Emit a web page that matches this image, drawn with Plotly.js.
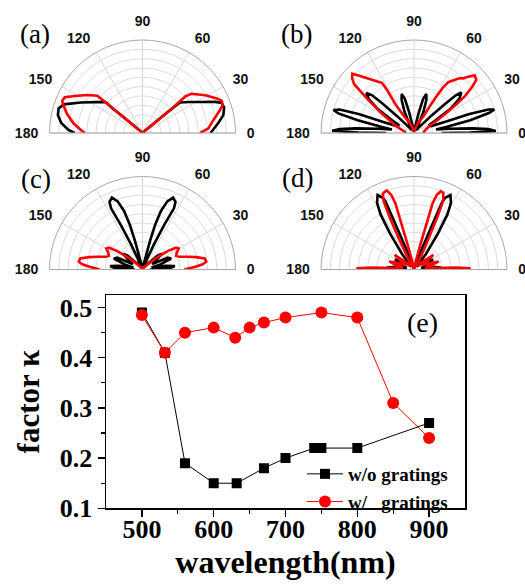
<!DOCTYPE html>
<html>
<head>
<meta charset="utf-8">
<script src="https://cdn.plot.ly/plotly-3.0.1.min.js"></script>
<style>html,body{margin:0;padding:0;background:#fff}#chart{width:525px;height:588px}</style>
</head>
<body>
<div id="chart"></div>
<script>
// ---------- polar panels: angle (deg) and normalized radius ----------
const aBlackTheta = [0,2.6,7.4,12.5,17.3,20.8,23.2,27.6,33.8,39,39.5,40,41,43,46,90,134,137,139,140,140.5,140,153.7,160,163.7,168,173,177.5,180];
const aBlackR     = [0.73,0.76,0.82,0.89,0.92,0.91,0.85,0.72,0.60,0.52,0.42,0.28,0.12,0.03,0.01,0,0.01,0.03,0.12,0.28,0.42,0.52,0.74,0.90,0.94,0.93,0.88,0.80,0.73];
const aRedTheta   = [0,4,10,16,19,22,25,31,36,39,39.5,40.5,40,39.5,40,42,46,90,134,138,140,140.5,140,140.4,145.4,151.3,155.2,158.3,160.7,165.6,172,177.5,180];
const aRedR       = [0.62,0.71,0.77,0.86,0.91,0.92,0.88,0.79,0.71,0.67,0.64,0.61,0.42,0.28,0.13,0.03,0.01,0,0.01,0.03,0.13,0.28,0.42,0.63,0.72,0.83,0.92,0.93,0.90,0.84,0.75,0.66,0.62];

const bBlackTheta = [0,0.5,1.4,3,4.5,7,9,10.5,12.8,15,16.3,17.5,19,19.8,22,27,30,33.5,37,40.5,42,43,45,48,55,62,66,69.5,72.5,75,77,80,85,90,95,100,103,105,107.5,110.5,114,118,125,132,135,137,138,140,143,146.5,150,153,158,160.2,161,162.5,164,165.5,167.2,169.5,171,173,175.5,177,178.4,179.5,180];
const bBlackR     = [0.30,0.60,0.88,0.80,0.63,0.38,0.24,0.35,0.62,0.84,0.90,0.84,0.63,0.36,0.20,0.18,0.26,0.47,0.61,0.67,0.61,0.46,0.26,0.10,0.04,0.10,0.25,0.38,0.44,0.38,0.22,0.06,0.02,0.01,0.02,0.06,0.22,0.38,0.44,0.38,0.25,0.10,0.04,0.10,0.26,0.46,0.61,0.67,0.61,0.47,0.26,0.18,0.20,0.36,0.63,0.84,0.90,0.84,0.62,0.35,0.24,0.38,0.63,0.80,0.88,0.60,0.30];
const bRedTheta   = [0,8,18,25,29,32,34,36,38.5,40.5,43.5,46.5,48,50,53,56,57.5,58.5,59.5,60.5,63,66,72,80,90,100,108,115,119,121.4,123,122,122.5,125.4,131.2,134,136.1,138.4,140.8,144.3,149,157.5,165,172,180];
const bRedR       = [0.10,0.11,0.14,0.19,0.29,0.42,0.55,0.68,0.80,0.88,0.90,0.83,0.79,0.77,0.71,0.66,0.58,0.45,0.32,0.21,0.16,0.14,0.07,0.03,0.02,0.03,0.07,0.14,0.18,0.24,0.37,0.55,0.64,0.68,0.79,0.86,0.92,0.89,0.83,0.60,0.40,0.22,0.14,0.10,0.09];

const cBlackTheta = [0,3,6,9,12,16,21,25,29,34,39,43,48,55,60,66.5,65.5,64,62.8,64,67,70,72.5,74.2,75.2,76,78,85,90,95,102,104,104.8,105.8,107.5,110,113,116,117.2,116,114.5,113.5,120,125,132,137,141,146,151,155,159,164,168,171,174,177,180];
const cBlackR     = [0.08,0.30,0.35,0.25,0.10,0.20,0.33,0.30,0.12,0.18,0.27,0.22,0.08,0.03,0.03,0.12,0.30,0.54,0.74,0.81,0.84,0.78,0.66,0.50,0.33,0.16,0.04,0.01,0,0.01,0.04,0.16,0.33,0.50,0.66,0.78,0.84,0.81,0.74,0.54,0.30,0.12,0.03,0.03,0.08,0.22,0.27,0.18,0.12,0.30,0.33,0.20,0.10,0.25,0.35,0.30,0.08];
const cRedTheta   = [0,3,5,7,10,13,16,19,22,26,30,33,36,40,45,55,70,90,110,125,135,140,144,147,150,154,158,161,164,167,170,173,175,177,180];
const cRedR       = [0.45,0.57,0.65,0.69,0.68,0.59,0.50,0.42,0.39,0.41,0.45,0.43,0.34,0.20,0.09,0.03,0.01,0,0.01,0.03,0.09,0.20,0.34,0.43,0.45,0.41,0.39,0.42,0.50,0.59,0.68,0.69,0.65,0.57,0.46];

const dBlackTheta = [0,4,8,12,20,27,33,40,46,50,52.4,56.3,58.7,61,63.9,66.5,67.3,67.9,69.2,72,80,90,100,108,110.8,112.1,112.7,113.5,116.1,119,121.3,123.7,127.6,130,134,140,147,153,160,168,172,176,180];
const dBlackR     = [0.10,0.29,0.20,0.08,0.13,0.23,0.19,0.08,0.05,0.10,0.21,0.46,0.69,0.82,0.89,0.84,0.79,0.48,0.22,0.06,0.02,0.01,0.02,0.06,0.22,0.48,0.79,0.84,0.89,0.82,0.69,0.46,0.21,0.10,0.05,0.08,0.19,0.23,0.13,0.08,0.20,0.29,0.10];
const dRedTheta   = [0,1.2,2.5,4,8,14,18,22,28,33,37,41,48,58,63,65,66,67,69,71,73,74.3,74.6,75.5,77,80,90,100,103,104.5,105.4,105.7,107,109,111,112.4,114,115,116,117,122,132,139,143,147,152,158,162,166,172,176,177.5,178.8,180];
const dRedR       = [0.35,0.61,0.45,0.22,0.12,0.20,0.28,0.18,0.10,0.18,0.26,0.14,0.04,0.08,0.20,0.40,0.62,0.80,0.88,0.89,0.84,0.74,0.52,0.30,0.12,0.04,0.01,0.04,0.12,0.30,0.52,0.74,0.84,0.90,0.89,0.88,0.80,0.62,0.40,0.20,0.08,0.04,0.14,0.26,0.18,0.10,0.18,0.28,0.20,0.12,0.22,0.45,0.62,0.36];

// ---------- panel (e) ----------
const wlWithout = [500,532,560,600,632,670,700,740,750,800,900];
const kWithout  = [0.49,0.41,0.19,0.15,0.15,0.18,0.20,0.22,0.22,0.22,0.27];
const wlWith    = [500,532,560,600,630,650,670,700,750,800,850,900];
const kWith     = [0.485,0.41,0.45,0.46,0.44,0.46,0.47,0.48,0.49,0.48,0.31,0.24];
const xTicks = [500,600,700,800,900];
const yTicks = [0.1,0.2,0.3,0.4,0.5];
const yMinor = [0.15,0.25,0.35,0.45];
const angTicks = [0,30,60,90,120,150,180];
const legendNames = ['w/o gratings','w/\u00a0\u00a0\u00a0gratings'];
const panelLabels = ['(a)','(b)','(c)','(d)','(e)'];

const W = 525, H = 588, R = 93;
const bold = s => '<b>' + s + '</b>';
function polarDomain(cx, cy){
  return {x:[(cx-R)/W,(cx+R)/W], y:[1-cy/H, 1-(cy-R)/H]};
}
function polarLayout(cx, cy){
  return {
    domain: polarDomain(cx, cy),
    sector: [0,180],
    bgcolor: 'rgba(0,0,0,0)',
    angularaxis: {rotation:0, direction:'counterclockwise', tickmode:'array', tickvals:angTicks,
      ticktext: angTicks.map(v=>bold(String(v))),
      ticks:'outside', ticklen:8, tickcolor:'rgba(0,0,0,0)', showline:true, linecolor:'#a8a8a8', linewidth:1,
      gridcolor:'#d6d6d6', gridwidth:1,
      tickfont:{family:'Liberation Sans, Arial', size:14, color:'#111', weight:'bold'}},
    radialaxis: {range:[0,1], showticklabels:false, ticks:'', showline:false, dtick:0.1,
      gridcolor:'#dcdcdc', gridwidth:1, angle:0}
  };
}
const lw = 2.6;
function pt(th, r, sub, col){
  return {type:'scatterpolar', mode:'lines', theta:th, r:r, subplot:sub,
    line:{color:col, width:lw}, showlegend:false, hoverinfo:'skip'};
}
const traces = [
  pt(aBlackTheta,aBlackR,'polar','#000'), pt(aRedTheta,aRedR,'polar','#ff0000'),
  pt(bBlackTheta,bBlackR,'polar2','#000'), pt(bRedTheta,bRedR,'polar2','#ff0000'),
  pt(cBlackTheta,cBlackR,'polar3','#000'), pt(cRedTheta,cRedR,'polar3','#ff0000'),
  pt(dBlackTheta,dBlackR,'polar4','#000'), pt(dRedTheta,dRedR,'polar4','#ff0000'),
  {type:'scatter', mode:'lines+markers', x:wlWithout, y:kWithout, name:bold(legendNames[0]),
   line:{color:'#000', width:1}, marker:{symbol:'square', size:10, color:'#000'}},
  {type:'scatter', mode:'lines+markers', x:wlWith, y:kWith, name:bold(legendNames[1]),
   line:{color:'#ff0000', width:1}, marker:{symbol:'circle', size:12, color:'#ff0000'}}
];

const serif = 'Liberation Serif, Times New Roman, serif';
const lblFont = {family:serif, size:27, color:'#000'};
function ann(text, x, y, font){
  return {text:text, x:x/W, y:1-y/H, xref:'paper', yref:'paper', xanchor:'center', yanchor:'middle', showarrow:false, font:font};
}
const yDomain = [1-508.3/H, 1-295/H];
const layout = {
  width:W, height:H, margin:{l:0,r:0,t:0,b:0},
  paper_bgcolor:'#fff', plot_bgcolor:'#fff',
  polar: polarLayout(142.5,133),
  polar2: polarLayout(414,133),
  polar3: polarLayout(142.5,269.5),
  polar4: polarLayout(414,269.5),
  xaxis: {domain:[106/W,465/W], range:[450,950], tickmode:'array', tickvals:xTicks,
    ticktext: xTicks.map(v=>bold(String(v))),
    ticks:'outside', ticklen:7, tickwidth:1.5, tickcolor:'#000', showline:true, linecolor:'#000', linewidth:1.5,
    mirror:true, showgrid:false, zeroline:false, ticklabelstandoff:-10,
    minor:{tickvals:[550,650,750,850], ticks:'outside', ticklen:4, tickcolor:'#000', tickwidth:1.2},
    tickfont:{family:serif, size:26, color:'#000'},
    title:{text:bold('wavelength(nm)'), font:{family:serif, size:32, color:'#000'}, standoff:0}},
  yaxis: {domain:yDomain, range:[0.1,0.525], tickmode:'array', tickvals:yTicks,
    ticktext:yTicks.map(v=>bold(v.toFixed(1))),
    ticks:'outside', ticklen:7, tickwidth:1.5, tickcolor:'#000', showline:true, linecolor:'#000', linewidth:1.5,
    mirror:true, showgrid:false, zeroline:false,
    minor:{tickvals:yMinor, ticks:'outside', ticklen:4, tickcolor:'#000', tickwidth:1.2},
    tickfont:{family:serif, size:26, color:'#000'},
    title:{text:bold('factor κ'), font:{family:serif, size:31, color:'#000'}, standoff:11}},
  yaxis2: {overlaying:'y', anchor:'x', side:'right', range:[0.1,0.525], tickmode:'array', tickvals:yTicks,
    showticklabels:false, ticks:'inside', ticklen:7, tickwidth:1.5, tickcolor:'#000',
    showline:false, showgrid:false, zeroline:false,
    minor:{tickvals:yMinor, ticks:'inside', ticklen:4, tickcolor:'#000', tickwidth:1.2}},
  showlegend:true,
  legend:{x:302/W, y:1-455/H, xanchor:'left', yanchor:'top', bgcolor:'rgba(0,0,0,0)',
    font:{family:serif, size:19, color:'#000'}, itemwidth:36, tracegroupgap:0},
  annotations:[
    ann(panelLabels[0], 35, 34, lblFont),
    ann(panelLabels[1], 296, 34, lblFont),
    ann(panelLabels[2], 36, 179, lblFont),
    ann(panelLabels[3], 297, 178, lblFont),
    ann(panelLabels[4], 422, 322, {family:serif, size:28, color:'#000'})
  ]
};
Plotly.newPlot('chart', traces, layout, {displayModeBar:false, staticPlot:true});
</script>
</body>
</html>
